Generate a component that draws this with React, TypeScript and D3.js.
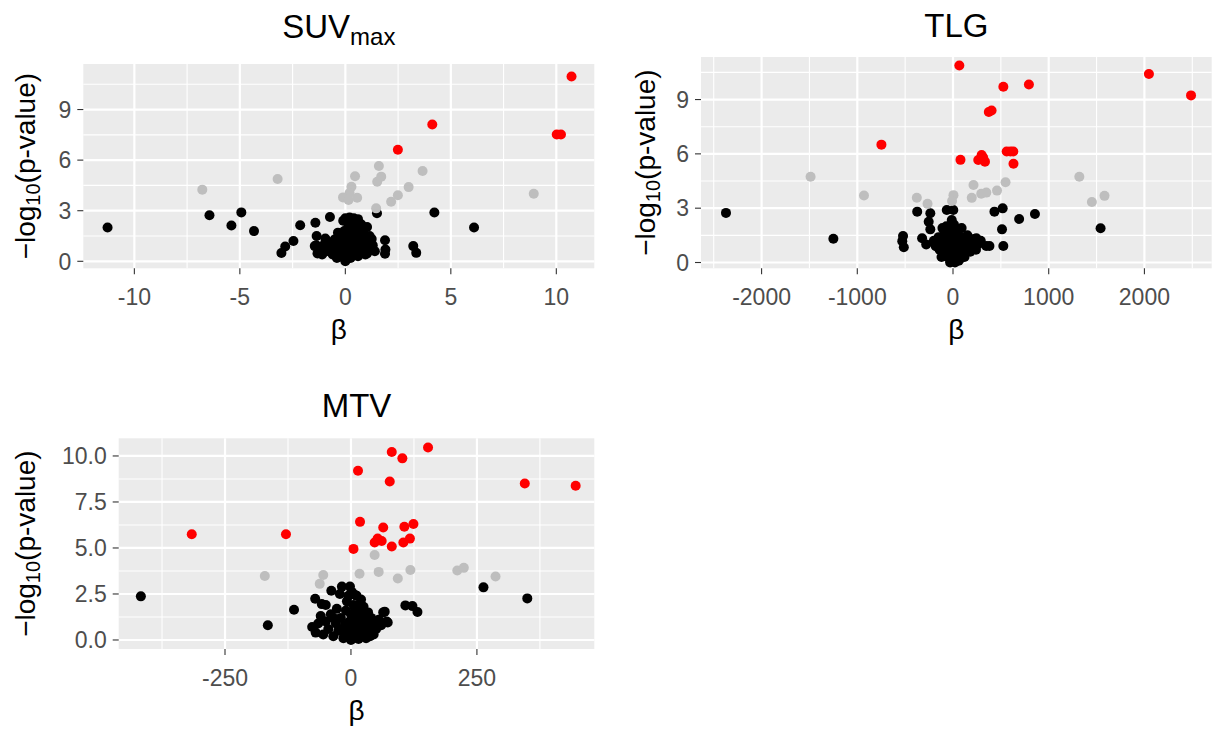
import React from "react";
import * as d3 from "d3";

type Pt = [number, number];

// ---------- SUVmax ----------
const suvRed: Pt[] = [
  [10.72, 10.96], [4.12, 8.11], [2.49, 6.62], [10.02, 7.52], [10.22, 7.52],
];
const suvGray: Pt[] = [
  [-6.78, 4.25], [-3.21, 4.88], [1.59, 5.65], [3.66, 5.36], [0.46, 5.04],
  [1.51, 4.72], [1.70, 5.02], [0.29, 4.42], [0.2, 4.05], [-0.11, 3.79],
  [0.15, 3.63], [0.56, 3.77], [3.0, 4.4], [2.49, 3.92], [2.17, 3.53],
  [1.46, 3.14], [8.93, 4.01],
];
const suvBlack: Pt[] = [
  [-11.27, 2.0], [-6.44, 2.73], [-4.93, 2.9], [-5.4, 2.12], [-4.33, 1.79],
  [-2.14, 2.14], [-3.03, 0.49], [-2.85, 0.88], [-2.46, 1.2], [-1.42, 2.29],
  [-0.73, 2.63], [-1.36, 1.5], [-1.32, 0.47], [-1.38, 0.95], [1.5, 2.85],
  [1.03, 2.03], [1.25, 1.32], [1.88, 1.25], [1.9, 0.7], [1.88, 0.45],
  [4.22, 2.89], [3.22, 0.9], [3.36, 0.5], [6.1, 2.0], [1.03, 0.47],
  [0.0, 2.55], [0.2, 2.6], [0.4, 2.55], [0.6, 2.5], [0.1, 2.35], [0.3, 2.3],
  [-0.1, 2.4], [-1.0, 1.0], [-0.9, 0.6], [-0.8, 0.8], [-0.7, 1.1], [-0.6, 0.4],
  [-0.55, 0.9], [-0.5, 1.3], [-0.45, 0.6], [-0.4, 0.2], [-0.35, 1.0],
  [-0.3, 0.5], [-0.25, 1.5], [-0.2, 0.8], [-0.15, 0.3], [-0.1, 1.2],
  [-0.05, 0.6], [0.0, 0.1], [0.0, 0.9], [0.05, 1.6], [0.1, 0.4], [0.1, 1.9],
  [0.15, 1.1], [0.2, 0.7], [0.2, 2.0], [0.25, 0.2], [0.3, 1.4], [0.35, 0.9],
  [0.4, 0.5], [0.4, 1.7], [0.45, 1.2], [0.5, 0.8], [0.55, 1.5], [0.6, 0.3],
  [0.65, 1.0], [0.7, 1.8], [0.75, 0.6], [0.8, 1.3], [0.85, 0.9], [0.9, 1.6],
  [0.95, 0.4], [1.0, 1.1], [1.1, 0.7], [1.15, 1.5], [-1.2, 0.75],
  [-0.95, 1.35], [0.0, 0.0], [0.05, 0.3], [-0.05, 1.8], [0.15, 2.2],
  [0.5, 2.1], [0.75, 2.2], [-0.35, 1.7], [-1.45, 0.9], [-1.1, 0.4],
  [1.3, 0.95], [1.4, 0.6],
];
const suvXTicks = [-10, -5, 0, 5, 10];
const suvXMinor = [-7.5, -2.5, 2.5, 7.5];
const suvYTicks = [0, 3, 6, 9];
const suvYMinor = [1.5, 4.5, 7.5, 10.5];

// ---------- TLG ----------
const tlgRed: Pt[] = [
  [66, 10.88], [2047, 10.41], [2487, 9.23], [526, 9.71], [793, 9.83],
  [374, 8.31], [403, 8.4], [-748, 6.51], [78, 5.67], [264, 5.66],
  [299, 5.94], [334, 5.57], [315, 5.8], [561, 6.13], [600, 6.13],
  [630, 6.13], [632, 5.45],
];
const tlgGray: Pt[] = [
  [-1488, 4.74], [-930, 3.7], [-378, 3.58], [-266, 3.24], [5, 3.72],
  [-10, 3.4], [214, 4.28], [196, 3.57], [295, 3.8], [348, 3.86],
  [460, 3.97], [549, 4.43], [1320, 4.74], [1451, 3.34], [1583, 3.68],
];
const tlgBlack: Pt[] = [
  [-2372, 2.74], [-1250, 1.31], [-522, 1.46], [-530, 1.18], [-514, 0.84],
  [-374, 2.81], [-237, 2.72], [-254, 2.25], [-237, 1.83], [-323, 1.34],
  [-280, 1.0], [-65, 2.9], [3, 2.9], [-13, 2.35], [433, 2.81], [519, 2.99],
  [691, 2.4], [856, 2.68], [512, 1.83], [526, 0.91], [347, 0.91], [381, 0.91],
  [244, 1.34], [1542, 1.89], [290, 1.2],
  [-200, 1.2], [-180, 0.9], [-150, 1.4], [-140, 0.7], [-120, 1.1], [-100, 0.5],
  [-90, 1.6], [-80, 0.9], [-60, 0.3], [-50, 1.3], [-40, 0.7], [-30, 1.9],
  [-20, 0.2], [-10, 1.0], [0, 0.5], [0, 1.5], [10, 2.1], [15, 0.1], [20, 0.8],
  [30, 1.2], [35, 1.8], [40, 0.4], [50, 1.0], [55, 0.6], [60, 1.5], [70, 0.2],
  [80, 0.9], [90, 1.3], [100, 0.6], [110, 1.0], [120, 0.3], [130, 1.2],
  [140, 0.8], [150, 1.5], [170, 1.1], [180, 0.6], [200, 0.9], [220, 1.3],
  [240, 0.7], [260, 1.0], [-60, 1.7], [-110, 1.9], [20, 0.0], [-30, 0.0],
  [60, 0.1], [-120, 0.3], [0, 1.2], [40, 1.6], [-70, 2.0], [90, 1.9],
];
const tlgXTicks = [-2000, -1000, 0, 1000, 2000];
const tlgXMinor = [-2500, -1500, -500, 500, 1500, 2500];
const tlgYTicks = [0, 3, 6, 9];
const tlgYMinor = [1.5, 4.5, 7.5, 10.5];

// ---------- MTV ----------
const mtvRed: Pt[] = [
  [153, 10.46], [81, 10.22], [102, 9.87], [14, 9.2], [77, 8.61], [345, 8.5],
  [446, 8.38], [-316, 5.75], [-129, 5.75], [18, 6.42], [64, 6.11],
  [106, 6.15], [124, 6.3], [47, 5.3], [53, 5.51], [61, 5.38], [81, 5.08],
  [104, 5.3], [117, 5.51], [5, 4.95],
];
const mtvGray: Pt[] = [
  [47, 4.62], [-171, 3.48], [-55, 3.53], [-62, 3.05], [17, 3.6], [55, 3.7],
  [93, 3.34], [118, 3.8], [211, 3.78], [224, 3.92], [287, 3.45],
];
const mtvBlack: Pt[] = [
  [-417, 2.37], [-165, 0.8], [-113, 1.64], [-77, 0.71], [-71, 2.24],
  [-58, 1.95], [-39, 2.68], [-18, 2.9], [-2, 2.9], [8, 2.45], [11, 2.41],
  [18, 1.95], [263, 2.86], [350, 2.26], [108, 1.88], [122, 1.84], [132, 1.52],
  [73, 0.95], [64, 1.5], [34, 1.5], [67, 1.54], [71, 1.0], [-50, 1.9],
  [-55, 0.3], [-50, 1.0], [-45, 0.6], [-40, 1.4], [-35, 0.2], [-30, 0.9],
  [-28, 1.7], [-25, 0.5], [-20, 1.2], [-15, 0.1], [-12, 0.8], [-10, 1.6],
  [-8, 2.1], [-5, 0.4], [-3, 1.0], [0, 0.0], [0, 1.4], [3, 0.6], [5, 1.9],
  [8, 0.2], [10, 1.1], [12, 0.7], [15, 1.5], [18, 0.3], [20, 2.2], [22, 0.9],
  [25, 1.3], [28, 0.5], [30, 0.1], [32, 1.0], [35, 0.7], [38, 0.2], [40, 1.2],
  [45, 0.9], [50, 0.6], [55, 1.1], [-65, 0.9], [-70, 0.4], [-60, 1.3],
  [-22, 2.5], [2, 2.6], [-5, 2.4], [8, 1.7], [45, 0.3], [60, 0.8], [25, 1.8],
  [-35, 1.2], [-18, 0.5], [0, 0.8], [15, 0.05],
];
const mtvXTicks = [-250, 0, 250];
const mtvXMinor = [-375, -125, 125, 375];
const mtvYTicks = [0, 2.5, 5, 7.5, 10];
const mtvYMinor = [1.25, 3.75, 6.25, 8.75];

const FONT = "'Liberation Sans', Arial, Helvetica, sans-serif";
const PANEL_BG = "#EBEBEB";
const TICK_TEXT = "#4D4D4D";
const TICK_LINE = "#333333";
const POINT_R = 5;

interface Box { left: number; top: number; right: number; bottom: number }

interface PanelProps {
  box: Box;
  xDomain: [number, number];
  yDomain: [number, number];
  xTicks: number[];
  xMinor: number[];
  yTicks: number[];
  yMinor: number[];
  yFormat: (v: number) => string;
  title: React.ReactNode;
  titleY: number;
  yTitleX: number;
  red: Pt[];
  gray: Pt[];
  black: Pt[];
}

function Panel(p: PanelProps) {
  const { box } = p;
  const x = d3.scaleLinear().domain(p.xDomain).range([box.left, box.right]);
  const y = d3.scaleLinear().domain(p.yDomain).range([box.bottom, box.top]);
  const cx = (box.left + box.right) / 2;
  const cy = (box.top + box.bottom) / 2;
  const layers: [Pt[], string][] = [
    [p.black, "#000000"],
    [p.gray, "#BEBEBE"],
    [p.red, "#FF0000"],
  ];
  return (
    <g>
      <rect x={box.left} y={box.top} width={box.right - box.left}
        height={box.bottom - box.top} fill={PANEL_BG} />
      {p.xMinor.map((v) => (
        <line key={"xm" + v} x1={x(v)} x2={x(v)} y1={box.top} y2={box.bottom}
          stroke="#fff" strokeWidth={1.1} />
      ))}
      {p.yMinor.map((v) => (
        <line key={"ym" + v} x1={box.left} x2={box.right} y1={y(v)} y2={y(v)}
          stroke="#fff" strokeWidth={1.1} />
      ))}
      {p.xTicks.map((v) => (
        <line key={"xM" + v} x1={x(v)} x2={x(v)} y1={box.top} y2={box.bottom}
          stroke="#fff" strokeWidth={2.2} />
      ))}
      {p.yTicks.map((v) => (
        <line key={"yM" + v} x1={box.left} x2={box.right} y1={y(v)} y2={y(v)}
          stroke="#fff" strokeWidth={2.2} />
      ))}
      {layers.map(([pts, col], li) =>
        pts.map((d, i) => (
          <circle key={li + "-" + i} cx={x(d[0])} cy={y(d[1])} r={POINT_R} fill={col} />
        ))
      )}
      {/* axis ticks and labels */}
      {p.xTicks.map((v) => (
        <g key={"xt" + v}>
          <line x1={x(v)} x2={x(v)} y1={box.bottom} y2={box.bottom + 6}
            stroke={TICK_LINE} strokeWidth={1.1} />
          <text x={x(v)} y={box.bottom + 36.7} textAnchor="middle"
            fontSize={23} fill={TICK_TEXT} fontFamily={FONT}>{String(v)}</text>
        </g>
      ))}
      {p.yTicks.map((v) => (
        <g key={"yt" + v}>
          <line x1={box.left - 6} x2={box.left} y1={y(v)} y2={y(v)}
            stroke={TICK_LINE} strokeWidth={1.1} />
          <text x={box.left - 12} y={y(v)} dy="0.36em" textAnchor="end"
            fontSize={23} fill={TICK_TEXT} fontFamily={FONT}>{p.yFormat(v)}</text>
        </g>
      ))}
      {/* titles */}
      <text x={cx} y={p.titleY} textAnchor="middle" fontSize={33}
        fontFamily={FONT} fill="#000">{p.title}</text>
      <text x={cx} y={box.bottom + 71} textAnchor="middle" fontSize={28}
        fontFamily={FONT} fill="#000">β</text>
      <text transform={`translate(${p.yTitleX},${cy}) rotate(-90)`} dy="0.35em"
        textAnchor="middle" fontSize={28} fontFamily={FONT} fill="#000">
        <tspan>−log</tspan>
        <tspan fontSize={20} dy={5}>10</tspan>
        <tspan dy={-5}>(p-value)</tspan>
      </text>
    </g>
  );
}

const fmtInt = (v: number) => String(v);
const fmtOne = d3.format(".1f");

export default function App() {
  return (
    <svg width={1216} height={731} style={{ display: "block", position: "absolute", left: 0, top: 0 }}
      xmlns="http://www.w3.org/2000/svg">
      <rect width={1216} height={731} fill="#fff" />
      <Panel
        box={{ left: 83.3, top: 64, right: 594.3, bottom: 268.3 }}
        xDomain={[-12.42, 11.8]}
        yDomain={[-0.415, 11.7]}
        xTicks={suvXTicks} xMinor={suvXMinor}
        yTicks={suvYTicks} yMinor={suvYMinor}
        yFormat={fmtInt}
        title={<><tspan>SUV</tspan><tspan fontSize={24} dy={7}>max</tspan></>}
        titleY={38.3}
        yTitleX={25}
        red={suvRed} gray={suvGray} black={suvBlack}
      />
      <Panel
        box={{ left: 701, top: 57, right: 1211.7, bottom: 268.3 }}
        xDomain={[-2633, 2703]}
        yDomain={[-0.32, 11.35]}
        xTicks={tlgXTicks} xMinor={tlgXMinor}
        yTicks={tlgYTicks} yMinor={tlgYMinor}
        yFormat={fmtInt}
        title="TLG"
        titleY={36.7}
        yTitleX={645.5}
        red={tlgRed} gray={tlgGray} black={tlgBlack}
      />
      <Panel
        box={{ left: 118.7, top: 438.3, right: 594.3, bottom: 649 }}
        xDomain={[-461, 483]}
        yDomain={[-0.49, 10.96]}
        xTicks={mtvXTicks} xMinor={mtvXMinor}
        yTicks={mtvYTicks} yMinor={mtvYMinor}
        yFormat={fmtOne}
        title="MTV"
        titleY={416.7}
        yTitleX={25}
        red={mtvRed} gray={mtvGray} black={mtvBlack}
      />
    </svg>
  );
}
